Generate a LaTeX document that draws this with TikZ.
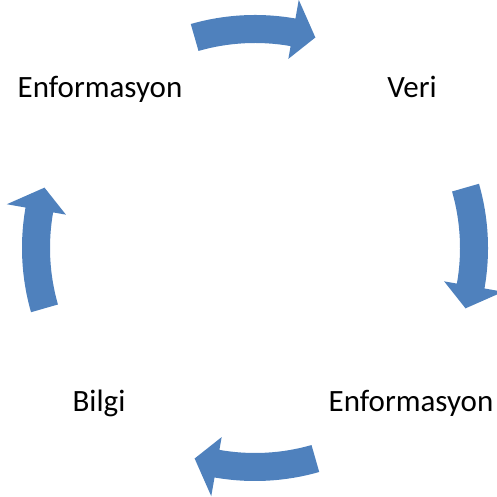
\documentclass[tikz,border=0pt]{standalone}
\usepackage{fontspec}
\setmainfont{Carlito}
\usepackage{xcolor}
\usepackage{tikz}
\definecolor{okmavi}{HTML}{4F81BD}
\tikzset{
	etiket/.style={anchor=base, font=\fontsize{31}{36}\selectfont},
	okblok/.style={fill=okmavi, draw=none}
}

\begin{document}
\begin{tikzpicture}[x=1pt,y=1pt]
	\useasboundingbox (0,0) rectangle (496,497);
	\node[etiket] (enfsol) at (100,399) {Enformasyon};
	\node[etiket] (veri) at (412,399) {Veri};
	\node[etiket] (enfsag) at (411,85) {Enformasyon};
	\node[etiket] (bilgi) at (99,85) {Bilgi};
	
	% donen oklar
	\foreach \a in {90,0,-90,180}
	{
		\fill[okblok, shift={(255,249)}] (\a+16:233) arc[start angle=\a+16, end angle=\a-10, radius=233]
			-- (\a-10:252) -- (\a-16:219) -- (\a-10:192) -- (\a-10:205)
			arc[start angle=\a-10, end angle=\a+16, radius=205] -- cycle;
	}
\end{tikzpicture}
\end{document}
